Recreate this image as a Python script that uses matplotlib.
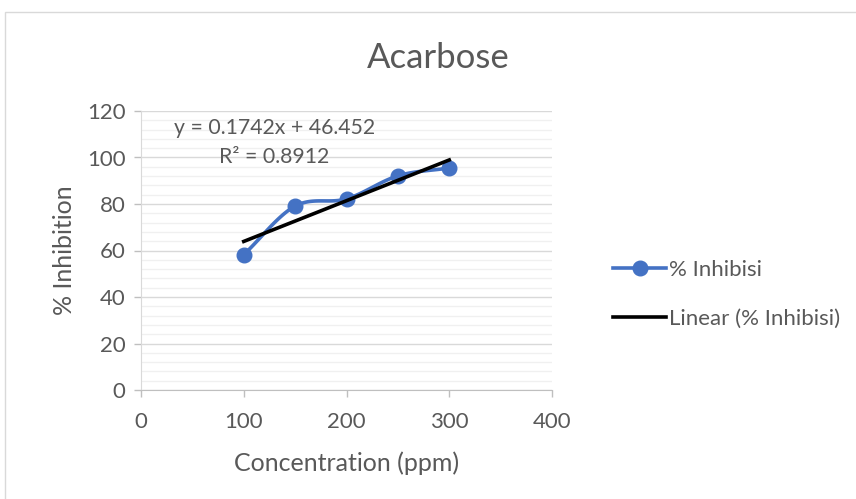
import numpy as np
import matplotlib
matplotlib.use("Agg")
import matplotlib.pyplot as plt
from matplotlib.patches import Rectangle
from matplotlib.lines import Line2D

# Data
concentration = [100, 150, 200, 250, 300]
inhibition = [58.2, 79.1, 82.2, 92.1, 95.5]
x_ticks = [0, 100, 200, 300, 400]
y_ticks = [0, 20, 40, 60, 80, 100, 120]
series_label = "% Inhibisi"
trend_label = "Linear (% Inhibisi)"
equation_text = "y = 0.1742x + 46.452"
r2_text = "R² = 0.8912"
title = "Acarbose"
xlabel = "Concentration (ppm)"
ylabel = "% Inhibition"

plt.rcParams['font.family'] = ['Lato', 'DejaVu Sans']
TXT = '#595959'
BLUE = '#4472C4'


def catmull_rom(xs, ys, n=30):
    xs = np.asarray(xs, float); ys = np.asarray(ys, float)
    P = np.column_stack([xs, ys])
    P = np.vstack([2 * P[0] - P[1], P, 2 * P[-1] - P[-2]])
    out = []
    for i in range(1, len(P) - 2):
        p0, p1, p2, p3 = P[i - 1], P[i], P[i + 1], P[i + 2]
        t = np.linspace(0, 1, n)[:, None]
        seg = 0.5 * ((2 * p1) + (-p0 + p2) * t + (2 * p0 - 5 * p1 + 4 * p2 - p3) * t ** 2
                     + (-p0 + 3 * p1 - 3 * p2 + p3) * t ** 3)
        out.append(seg if i == len(P) - 3 else seg[:-1])
    c = np.vstack(out)
    return c[:, 0], c[:, 1]


fig = plt.figure(figsize=(8.56, 4.99), dpi=100)
fig.patches.append(Rectangle((5 / 856, -0.1), 1.2, 1 - 12 / 499 + 0.1, transform=fig.transFigure,
                             fill=False, edgecolor='#d9d9d9', linewidth=1))

ax = fig.add_axes([141 / 856, 1 - 390 / 499, (552 - 141) / 856, (390 - 111) / 499])
ax.set_xlim(0, 400)
ax.set_ylim(0, 120)
ax.set_xticks(x_ticks)
ax.set_yticks(y_ticks)
ax.set_yticks(np.arange(0, 121, 4), minor=True)
ax.grid(True, which='major', axis='y', color='#d9d9d9', linewidth=1)
ax.grid(True, which='minor', axis='y', color='#f0f0f0', linewidth=1)
ax.set_axisbelow(True)
for s in ['top', 'right']:
    ax.spines[s].set_visible(False)
ax.spines['left'].set_color('#d9d9d9')
ax.spines['bottom'].set_color('#bfbfbf')
ax.tick_params(axis='both', which='major', colors='#bfbfbf', labelcolor=TXT, labelsize=16,
               length=5, width=1)
ax.tick_params(axis='y', which='minor', length=0)
ax.tick_params(axis='x', pad=11)
ax.tick_params(axis='y', pad=6)

sx, sy = catmull_rom(concentration, inhibition)
ax.plot(sx, sy, color=BLUE, linewidth=2.6, zorder=3)
ax.plot(concentration, inhibition, linestyle='none', marker='o', markersize=10.5,
        color=BLUE, zorder=4)

slope, intercept = np.polyfit(concentration, inhibition, 1)
tx = np.array([concentration[0], concentration[-1]])
ax.plot(tx, slope * tx + intercept, color='black', linewidth=2.6, zorder=5)

ax.text(130, 112.7, equation_text, color=TXT, fontsize=15.3, ha='center', va='center')
ax.text(130, 100.2, r2_text, color=TXT, fontsize=15.3, ha='center', va='center')

ax.set_xlabel(xlabel, color=TXT, fontsize=18, labelpad=14)
ax.set_ylabel(ylabel, color=TXT, fontsize=18, labelpad=8)
fig.text(438 / 856, 1 - 58 / 499, title, color=TXT, fontsize=25, ha='center', va='center')

# Legend
h1 = Line2D([], [], color=BLUE, linewidth=2.6, marker='o', markersize=10.5)
h2 = Line2D([], [], color='black', linewidth=2.6)
fig.legend([h1, h2], [series_label, trend_label], loc='center left',
           bbox_to_anchor=(593 / 856, 1 - 294 / 499), frameon=False, fontsize=16,
           labelcolor=TXT, handlelength=2.4, handletextpad=0.1, labelspacing=1.3)

fig.savefig('out.png', dpi=100)
